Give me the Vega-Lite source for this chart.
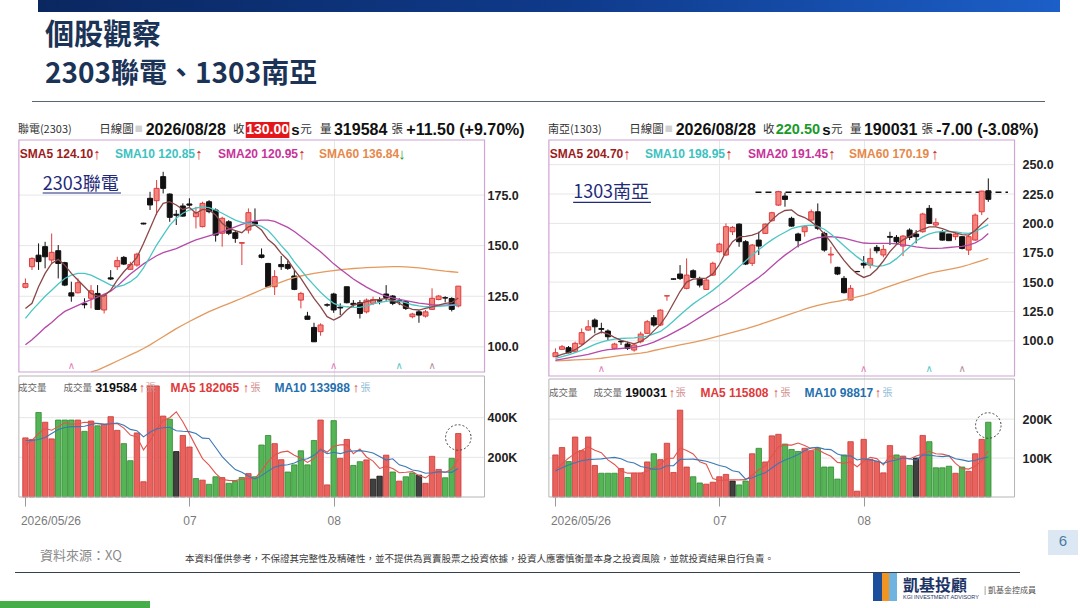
{
"$schema": "https://vega.github.io/schema/vega-lite/v6.json",
"background": "white",
"padding": 0,
"bounds": "flush",
"spacing": 0,
"config": {"view": {"stroke": null}, "concat": {"spacing": 0}, "text": {"align": "left", "baseline": "middle", "font": "Noto Sans CJK TC", "fontSize": 12.5, "color": "#333333"}},
"datasets": {
"L": [
{"i":0,"o":129.4,"h":133.8,"l":128.9,"c":131.3,"m5":119,"m10":114.1,"m20":101,"v":298,"d":"u","vm5":265,"vm10":285},
{"i":1,"o":139.6,"h":144.2,"l":138,"c":143.7,"m5":121.5,"m10":118,"m20":103.5,"v":290,"d":"u","vm5":285,"vm10":285},
{"i":2,"o":145.3,"h":151.1,"l":138,"c":142.1,"m5":129.7,"m10":121.5,"m20":106.5,"v":426,"d":"d","vm5":320,"vm10":290},
{"i":3,"o":149.5,"h":151.9,"l":138.8,"c":144.5,"m5":136.3,"m10":125,"m20":109.5,"v":377,"d":"u","vm5":345,"vm10":300},
{"i":4,"o":142.9,"h":156,"l":141.2,"c":146.7,"m5":141.2,"m10":128,"m20":112,"v":293,"d":"u","vm5":336.8,"vm10":320},
{"i":5,"o":147.5,"h":150.3,"l":133.8,"c":141.2,"m5":143.2,"m10":131,"m20":115,"v":388,"d":"d","vm5":354.8,"vm10":340},
{"i":6,"o":141.6,"h":142,"l":130,"c":130.5,"m5":140.4,"m10":133.8,"m20":117.5,"v":388,"d":"d","vm5":374.4,"vm10":350},
{"i":7,"o":126.7,"h":132.2,"l":122.3,"c":125.1,"m5":136.3,"m10":135.4,"m20":119,"v":388,"d":"d","vm5":366.8,"vm10":355},
{"i":8,"o":126.7,"h":133.8,"l":126.4,"c":131.7,"m5":133,"m10":136.3,"m20":120.5,"v":388,"d":"u","vm5":369,"vm10":355},
{"i":9,"o":121.3,"h":124,"l":119,"c":120.8,"m5":129.7,"m10":136.3,"m20":122,"v":331,"d":"d","vm5":376.6,"vm10":356.7},
{"i":10,"o":124,"h":130.5,"l":119,"c":127.7,"m5":126.4,"m10":135.4,"m20":123.3,"m60":87.6,"v":383,"d":"u","vm5":375.6,"vm10":365.2},
{"i":11,"o":126.4,"h":130.5,"l":118.2,"c":118.5,"m5":125.1,"m10":133.8,"m20":124.5,"m60":88.5,"v":359,"d":"d","vm5":369.8,"vm10":372.1},
{"i":12,"o":118.2,"h":126.4,"l":116.5,"c":125.6,"m5":125.1,"m10":132.2,"m20":126,"m60":90,"v":367,"d":"u","vm5":365.6,"vm10":366.2},
{"i":13,"o":134.1,"h":137.9,"l":133,"c":133.5,"m5":128,"m10":130.5,"m20":127.5,"m60":91.5,"v":405,"d":"u","vm5":369,"vm10":369},
{"i":14,"o":139.6,"h":144.5,"l":138,"c":142.6,"m5":133,"m10":129.7,"m20":130,"m60":93,"v":336,"d":"u","vm5":370,"vm10":373.3},
{"i":15,"o":144.2,"h":144.9,"l":140.4,"c":140.9,"m5":137.1,"m10":130.5,"m20":133,"m60":94.5,"v":269,"d":"d","vm5":347.2,"vm10":361.4},
{"i":16,"o":138.3,"h":142,"l":138,"c":140.7,"m5":140.4,"m10":132.2,"m20":136,"m60":96,"v":183,"d":"d","vm5":312,"vm10":340.9},
{"i":17,"o":140.4,"h":146.5,"l":139.6,"c":145.8,"m5":144.2,"m10":134.6,"m20":138.5,"m60":97.5,"v":323,"d":"u","vm5":303.2,"vm10":334.4},
{"i":18,"o":161.1,"h":161.3,"l":160.5,"c":160.7,"m5":151.1,"m10":139,"m20":141,"m60":99.2,"v":77,"d":"u","vm5":237.6,"vm10":303.3},
{"i":19,"o":173.4,"h":176.6,"l":167.6,"c":170.1,"m5":158.5,"m10":144.5,"m20":143,"m60":101,"v":560,"d":"u","vm5":282.4,"vm10":326.2},
{"i":20,"o":172.2,"h":182.4,"l":165.1,"c":178.3,"m5":166,"m10":150.3,"m20":145,"m60":103,"v":560,"d":"u","vm5":340.6,"vm10":343.9},
{"i":21,"o":184.1,"h":186.5,"l":175.8,"c":178.3,"m5":170.9,"m10":155.2,"m20":146.5,"m60":105,"v":408,"d":"u","vm5":385.6,"vm10":348.8},
{"i":22,"o":175.5,"h":175.8,"l":161.8,"c":164,"m5":171.7,"m10":160,"m20":147.5,"m60":107,"v":392,"d":"d","vm5":399.4,"vm10":351.3},
{"i":23,"o":165.5,"h":167.6,"l":160.2,"c":165,"m5":170.1,"m10":163.5,"m20":148.5,"m60":109,"v":229,"d":"f","vm5":429.8,"vm10":333.7},
{"i":24,"o":169.6,"h":170.9,"l":164.3,"c":164.6,"m5":167.9,"m10":166,"m20":150,"m60":110.8,"v":310,"d":"u","vm5":379.8,"vm10":331.1},
{"i":25,"o":170.6,"h":173.4,"l":169.2,"c":170,"m5":168.9,"m10":167.6,"m20":151.5,"m60":112.5,"v":252,"d":"u","vm5":318.2,"vm10":329.4},
{"i":26,"o":164.3,"h":169.2,"l":158.5,"c":166.3,"m5":166,"m10":168.6,"m20":152.8,"m60":114.2,"v":93,"d":"d","vm5":255.2,"vm10":320.4},
{"i":27,"o":159.4,"h":171.7,"l":159,"c":170.9,"m5":167.9,"m10":169.2,"m20":153.8,"m60":115.8,"v":85,"d":"u","vm5":193.8,"vm10":296.6},
{"i":28,"o":171.7,"h":172.5,"l":166,"c":166.8,"m5":167.6,"m10":168.8,"m20":154.8,"m60":117.4,"v":64,"d":"d","vm5":160.8,"vm10":295.3},
{"i":29,"o":167.6,"h":168.4,"l":152,"c":155.2,"m5":165.1,"m10":167.6,"m20":155.8,"m60":118.8,"v":102,"d":"d","vm5":119.2,"vm10":249.5},
{"i":30,"o":156.1,"h":164.3,"l":149.5,"c":163.5,"m5":161,"m10":166,"m20":156.8,"m60":120.1,"v":98,"d":"u","vm5":88.4,"vm10":203.3},
{"i":31,"o":161.8,"h":162.6,"l":155.2,"c":156.1,"m5":158.5,"m10":164.3,"m20":158,"m60":121.4,"v":69,"d":"d","vm5":83.6,"vm10":169.4},
{"i":32,"o":156.4,"h":157.7,"l":151.4,"c":153.6,"m5":157.4,"m10":162.6,"m20":159.3,"m60":122.7,"v":80,"d":"d","vm5":82.6,"vm10":138.2},
{"i":33,"o":151.2,"h":151.5,"l":140.4,"c":151.5,"m5":156.4,"m10":161.5,"m20":160.5,"m60":124,"v":98,"d":"d","vm5":89.4,"vm10":125.1},
{"i":34,"o":157.7,"h":168.4,"l":156,"c":166.3,"m5":159.3,"m10":161,"m20":161.5,"m60":125.4,"v":118,"d":"u","vm5":92.6,"vm10":105.9},
{"i":35,"o":161.8,"h":168.4,"l":160.2,"c":160.7,"m5":160.2,"m10":160.5,"m20":162.2,"m60":126.8,"v":102,"d":"d","vm5":93.4,"vm10":90.9},
{"i":36,"o":145.4,"h":148.6,"l":143.7,"c":144.2,"m5":157.7,"m10":159.5,"m20":162.6,"m60":128.2,"v":262,"d":"d","vm5":132,"vm10":107.8},
{"i":37,"o":141.2,"h":141.5,"l":129.5,"c":129.7,"m5":153,"m10":157.5,"m20":162.6,"m60":129.6,"v":310,"d":"d","vm5":178,"vm10":130.3},
{"i":38,"o":129.7,"h":137.9,"l":125.6,"c":134.7,"m5":150.3,"m10":154,"m20":162,"m60":130.8,"v":269,"d":"u","vm5":212.2,"vm10":150.8},
{"i":39,"o":140.7,"h":144.9,"l":138,"c":139.6,"m5":146.2,"m10":150,"m20":160.5,"m60":132,"v":188,"d":"u","vm5":226.2,"vm10":159.4},
{"i":40,"o":140.7,"h":142.6,"l":138,"c":138.8,"m5":142.9,"m10":146.5,"m20":159,"m60":133.2,"v":126,"d":"d","vm5":231,"vm10":162.2},
{"i":41,"o":135,"h":137.9,"l":128,"c":128.4,"m5":138,"m10":142,"m20":157,"m60":134.2,"v":162,"d":"d","vm5":211,"vm10":171.5},
{"i":42,"o":123.1,"h":127.2,"l":119,"c":126.4,"m5":133.8,"m10":138,"m20":154.5,"m60":135,"v":233,"d":"d","vm5":195.6,"vm10":186.8},
{"i":43,"o":115.2,"h":117.3,"l":113.5,"c":113.6,"m5":128.9,"m10":134,"m20":152,"m60":135.7,"v":162,"d":"d","vm5":174.2,"vm10":193.2},
{"i":44,"o":109.6,"h":111.9,"l":102.5,"c":102.5,"m5":123.9,"m10":130.5,"m20":149.5,"m60":136.3,"v":285,"d":"d","vm5":193.6,"vm10":209.9},
{"i":45,"o":107.5,"h":111.6,"l":105.5,"c":110.8,"m5":119.8,"m10":127,"m20":147,"m60":136.8,"v":388,"d":"u","vm5":246,"vm10":238.5},
{"i":46,"o":120.8,"h":121.5,"l":119.8,"c":120.6,"m5":114.9,"m10":124,"m20":144,"m60":137.3,"v":61,"d":"u","vm5":225.8,"vm10":218.4},
{"i":47,"o":126.1,"h":126.7,"l":116.8,"c":118.2,"m5":113.2,"m10":121.5,"m20":141,"m60":137.7,"v":385,"d":"d","vm5":256.2,"vm10":225.9},
{"i":48,"o":119.6,"h":121.5,"l":115.7,"c":119.2,"m5":114.9,"m10":120.2,"m20":138.5,"m60":138.1,"v":195,"d":"u","vm5":262.8,"vm10":218.5},
{"i":49,"o":129.7,"h":129.7,"l":121.5,"c":121.8,"m5":118.2,"m10":119.8,"m20":136,"m60":138.4,"v":290,"d":"u","vm5":263.8,"vm10":228.7},
{"i":50,"o":121.5,"h":123.1,"l":119.8,"c":120.8,"m5":120.6,"m10":119.5,"m20":133.5,"m60":138.7,"v":159,"d":"d","vm5":218,"vm10":232},
{"i":51,"o":121.8,"h":123.1,"l":114,"c":116.5,"m5":121.5,"m10":119.5,"m20":131.5,"m60":138.9,"v":178,"d":"d","vm5":241.4,"vm10":233.6},
{"i":52,"o":117.3,"h":123.9,"l":116.5,"c":123.1,"m5":122.3,"m10":120.2,"m20":129.5,"m60":139.1,"v":187,"d":"u","vm5":201.8,"vm10":229},
{"i":53,"o":121.5,"h":124.8,"l":120.6,"c":123.4,"m5":123.1,"m10":121.2,"m20":127.8,"m60":139.3,"v":90,"d":"f","vm5":180.8,"vm10":221.8},
{"i":54,"o":122.8,"h":124.5,"l":121,"c":122.6,"m5":123.4,"m10":122,"m20":126.3,"m60":139.4,"v":105,"d":"f","vm5":143.8,"vm10":203.8},
{"i":55,"o":126.1,"h":130.5,"l":122.8,"c":124.4,"m5":123.9,"m10":122.5,"m20":125,"m60":139.5,"v":211,"d":"u","vm5":154.2,"vm10":186.1},
{"i":56,"o":125.1,"h":125.6,"l":120.6,"c":121.5,"m5":122.8,"m10":123,"m20":124.2,"m60":139.6,"v":126,"d":"d","vm5":143.8,"vm10":192.6},
{"i":57,"o":122.8,"h":124,"l":120.6,"c":122.3,"m5":121.5,"m10":122.6,"m20":123.5,"m60":139.6,"v":80,"d":"u","vm5":122.4,"vm10":162.1},
{"i":58,"o":122.3,"h":123.1,"l":118.2,"c":119,"m5":119.8,"m10":121.8,"m20":122.8,"m60":139.5,"v":102,"d":"d","vm5":124.8,"vm10":152.8},
{"i":59,"o":114.9,"h":116.8,"l":114.1,"c":116.2,"m5":118.5,"m10":120.8,"m20":122.2,"m60":139.3,"v":121,"d":"d","vm5":128,"vm10":135.9},
{"i":60,"o":117.3,"h":118.2,"l":111.9,"c":115.7,"m5":118.2,"m10":120.2,"m20":121.6,"m60":139,"v":110,"d":"f","vm5":107.8,"vm10":131},
{"i":61,"o":115.2,"h":118.2,"l":114.5,"c":117.3,"m5":119,"m10":119.8,"m20":121.2,"m60":138.6,"v":69,"d":"u","vm5":96.4,"vm10":120.1},
{"i":62,"o":118.5,"h":128.9,"l":118.2,"c":124,"m5":119.8,"m10":119.8,"m20":120.8,"m60":138.2,"v":205,"d":"u","vm5":121.4,"vm10":121.9},
{"i":63,"o":123.4,"h":125.6,"l":123,"c":125.1,"m5":120.6,"m10":120,"m20":120.6,"m60":137.8,"v":139,"d":"u","vm5":128.8,"vm10":126.8},
{"i":64,"o":124.3,"h":125,"l":122,"c":124.1,"m5":121.5,"m10":120.3,"m20":120.6,"m60":137.4,"v":97,"d":"d","vm5":124,"vm10":126},
{"i":65,"o":123.9,"h":124.5,"l":117.5,"c":118.5,"m5":121.8,"m10":120.5,"m20":120.8,"m60":137.1,"v":195,"d":"d","vm5":141,"vm10":124.4},
{"i":66,"o":120.2,"h":130,"l":119.5,"c":130,"m5":124.1,"m10":120.85,"m20":120.95,"m60":136.84,"v":320,"d":"u","vm5":191.2,"vm10":143.8}
],
"R": [
{"i":0,"o":86.5,"h":93.6,"l":86.5,"c":89.9,"m5":86.5,"m10":85,"m20":83.5,"m60":83,"v":108,"d":"u","vm5":69,"vm10":67},
{"i":1,"o":92.8,"h":96.5,"l":92.2,"c":95,"m5":88.5,"m10":86.5,"m20":84.5,"m60":83.2,"v":127,"d":"u","vm5":85,"vm10":75},
{"i":2,"o":94.2,"h":95.6,"l":89.4,"c":89.9,"m5":90,"m10":88,"m20":85.5,"m60":83.5,"v":91,"d":"d","vm5":100,"vm10":82},
{"i":3,"o":90.8,"h":99.3,"l":89.9,"c":97.9,"m5":92.5,"m10":90,"m20":86.5,"m60":83.8,"v":154,"d":"u","vm5":112,"vm10":88},
{"i":4,"o":97.3,"h":110.6,"l":96.5,"c":107,"m5":96,"m10":92,"m20":87.5,"m60":84,"v":119,"d":"u","vm5":119.8,"vm10":93},
{"i":5,"o":109.2,"h":117.7,"l":108.6,"c":112,"m5":100.5,"m10":94.5,"m20":88.5,"m60":84.3,"v":154,"d":"u","vm5":129,"vm10":96},
{"i":6,"o":117.7,"h":119.1,"l":106.4,"c":112,"m5":105,"m10":97,"m20":90,"m60":84.7,"v":81,"d":"u","vm5":119.8,"vm10":97},
{"i":7,"o":110.5,"h":115.4,"l":106.4,"c":109.8,"m5":107.5,"m10":99,"m20":91.5,"m60":85.2,"v":61,"d":"d","vm5":113.8,"vm10":98},
{"i":8,"o":108.4,"h":109.8,"l":100.1,"c":103.5,"m5":106,"m10":100.5,"m20":92.5,"m60":86,"v":61,"d":"d","vm5":95.2,"vm10":100},
{"i":9,"o":93.6,"h":98.4,"l":92.8,"c":97.3,"m5":103,"m10":101.5,"m20":93,"m60":86.8,"v":61,"d":"d","vm5":83.6,"vm10":101.7},
{"i":10,"o":99.6,"h":100.7,"l":96.5,"c":99.2,"m5":100.5,"m10":102,"m20":93.5,"m60":87.6,"v":73,"d":"u","vm5":67.4,"vm10":98.2},
{"i":11,"o":97.3,"h":99.3,"l":92.2,"c":93.6,"m5":99,"m10":102.3,"m20":94,"m60":88.3,"v":50,"d":"d","vm5":61.2,"vm10":90.5},
{"i":12,"o":92.2,"h":98.4,"l":90.8,"c":96.5,"m5":97.5,"m10":102.6,"m20":94.5,"m60":89,"v":61,"d":"u","vm5":61.2,"vm10":87.5},
{"i":13,"o":99.3,"h":107.8,"l":97.9,"c":105.8,"m5":99.5,"m10":103.2,"m20":95.5,"m60":89.5,"v":61,"d":"u","vm5":61.2,"vm10":78.2},
{"i":14,"o":106.4,"h":117.7,"l":105.8,"c":116.3,"m5":103,"m10":104,"m20":97,"m60":90.5,"v":90,"d":"u","vm5":67,"vm10":75.3},
{"i":15,"o":119.7,"h":122,"l":112.1,"c":113.5,"m5":108.5,"m10":106,"m20":99,"m60":91.8,"v":111,"d":"d","vm5":74.6,"vm10":71},
{"i":16,"o":113.5,"h":126.8,"l":112.6,"c":126.2,"m5":114,"m10":108,"m20":101.5,"m60":93,"v":96,"d":"u","vm5":83.8,"vm10":72.5},
{"i":17,"o":138.2,"h":138.6,"l":134.2,"c":138.4,"m5":122,"m10":112,"m20":104,"m60":94.2,"v":138,"d":"u","vm5":99.2,"vm10":80.2},
{"i":18,"o":152.8,"h":153,"l":152,"c":152.5,"m5":132,"m10":117,"m20":107,"m60":95.3,"v":63,"d":"u","vm5":99.6,"vm10":80.4},
{"i":19,"o":156.9,"h":164.5,"l":151.8,"c":153.2,"m5":142,"m10":122,"m20":110,"m60":96.5,"v":223,"d":"u","vm5":126.2,"vm10":96.6},
{"i":20,"o":144.7,"h":170.2,"l":143.8,"c":156,"m5":150,"m10":127,"m20":113,"m60":97.7,"v":77,"d":"u","vm5":119.4,"vm10":97},
{"i":21,"o":159.7,"h":160.9,"l":153.2,"c":154,"m5":152.5,"m10":131.5,"m20":116.5,"m60":98.8,"v":52,"d":"d","vm5":110.6,"vm10":97.2},
{"i":22,"o":153.2,"h":154.6,"l":145.5,"c":147.5,"m5":153,"m10":135.5,"m20":120,"m60":100,"v":36,"d":"d","vm5":90.2,"vm10":94.7},
{"i":23,"o":143.8,"h":153.2,"l":143.3,"c":151.8,"m5":153.5,"m10":139,"m20":123.5,"m60":101.3,"v":33,"d":"u","vm5":84.2,"vm10":91.9},
{"i":24,"o":156,"h":167.4,"l":155.2,"c":166,"m5":157,"m10":143,"m20":127,"m60":102.7,"v":38,"d":"u","vm5":47.2,"vm10":86.7},
{"i":25,"o":175.9,"h":183.5,"l":175,"c":182.4,"m5":165,"m10":147.5,"m20":130.5,"m60":104.2,"v":52,"d":"u","vm5":42.2,"vm10":80.8},
{"i":26,"o":173.1,"h":200,"l":172.2,"c":197.2,"m5":176,"m10":152.5,"m20":134,"m60":105.7,"v":58,"d":"u","vm5":43.4,"vm10":77},
{"i":27,"o":192.9,"h":197.7,"l":190.1,"c":196.6,"m5":184.5,"m10":157.5,"m20":138,"m60":107.2,"v":41,"d":"f","vm5":44.4,"vm10":67.3},
{"i":28,"o":199.4,"h":200,"l":180.1,"c":184.4,"m5":188.5,"m10":163,"m20":142,"m60":108.8,"v":31,"d":"d","vm5":44,"vm10":64.1},
{"i":29,"o":184.4,"h":185.8,"l":164.5,"c":165.4,"m5":189,"m10":168,"m20":146,"m60":110.3,"v":41,"d":"d","vm5":44.6,"vm10":45.9},
{"i":30,"o":166,"h":182.4,"l":163.7,"c":181.6,"m5":190,"m10":173,"m20":150,"m60":112,"v":111,"d":"u","vm5":56.4,"vm10":49.3},
{"i":31,"o":185.8,"h":192.9,"l":173.1,"c":180.7,"m5":192,"m10":177.5,"m20":154,"m60":113.7,"v":125,"d":"d","vm5":69.8,"vm10":56.6},
{"i":32,"o":191.5,"h":200,"l":191,"c":199.4,"m5":197,"m10":182,"m20":158.5,"m60":115.6,"v":90,"d":"u","vm5":79.6,"vm10":62},
{"i":33,"o":202.3,"h":209.9,"l":201.4,"c":209.1,"m5":203,"m10":186,"m20":163.5,"m60":117.5,"v":157,"d":"u","vm5":104.8,"vm10":74.4},
{"i":34,"o":215.6,"h":227.8,"l":214.8,"c":227,"m5":208,"m10":189.5,"m20":168.5,"m60":119.3,"v":161,"d":"u","vm5":128.8,"vm10":86.7},
{"i":35,"o":223.3,"h":226.1,"l":214.2,"c":220.4,"m5":211,"m10":192.5,"m20":173,"m60":121.2,"v":136,"d":"d","vm5":133.8,"vm10":95.1},
{"i":36,"o":204.3,"h":205.7,"l":197.2,"c":197.7,"m5":211.5,"m10":195.5,"m20":177,"m60":123.1,"v":122,"d":"d","vm5":133.2,"vm10":101.5},
{"i":37,"o":191,"h":192.1,"l":179.6,"c":185.3,"m5":207,"m10":197,"m20":181,"m60":125,"v":117,"d":"d","vm5":138.6,"vm10":109.1},
{"i":38,"o":192.9,"h":198.6,"l":188.7,"c":197.2,"m5":205,"m10":198,"m20":183.5,"m60":127,"v":125,"d":"u","vm5":132.2,"vm10":118.5},
{"i":39,"o":202.8,"h":211.9,"l":202.3,"c":209.9,"m5":201.5,"m10":198.5,"m20":186,"m60":128.8,"v":119,"d":"u","vm5":123.8,"vm10":126.3},
{"i":40,"o":209.9,"h":217,"l":194.3,"c":195.8,"m5":197,"m10":197.5,"m20":187.8,"m60":130.3,"v":125,"d":"d","vm5":121.6,"vm10":127.7},
{"i":41,"o":191.5,"h":192.9,"l":175.9,"c":177.3,"m5":191,"m10":195,"m20":188.5,"m60":131.5,"v":77,"d":"d","vm5":112.6,"vm10":122.9},
{"i":42,"o":173.1,"h":180.1,"l":165.9,"c":173.8,"m5":184,"m10":191,"m20":188.7,"m60":132.7,"v":77,"d":"d","vm5":104.6,"vm10":121.6},
{"i":43,"o":162.6,"h":163.1,"l":156,"c":156.9,"m5":176,"m10":186,"m20":188.2,"m60":133.7,"v":46,"d":"d","vm5":88.8,"vm10":110.5},
{"i":44,"o":153.2,"h":155.2,"l":140.4,"c":141,"m5":168.5,"m10":181,"m20":187.5,"m60":134.8,"v":108,"d":"d","vm5":86.6,"vm10":105.2},
{"i":45,"o":134.8,"h":147.5,"l":134.2,"c":144.7,"m5":162,"m10":176,"m20":186,"m60":136,"v":142,"d":"u","vm5":90,"vm10":105.8},
{"i":46,"o":159.1,"h":159.5,"l":158.5,"c":158.9,"m5":157,"m10":171.5,"m20":184.5,"m60":137.4,"v":15,"d":"u","vm5":77.6,"vm10":95.1},
{"i":47,"o":166,"h":172.2,"l":161.7,"c":164.5,"m5":154,"m10":167.5,"m20":183.3,"m60":138.8,"v":148,"d":"u","vm5":91.8,"vm10":98.2},
{"i":48,"o":164.5,"h":178.7,"l":161.7,"c":170.2,"m5":156,"m10":164.5,"m20":183,"m60":140.5,"v":97,"d":"u","vm5":102,"vm10":95.4},
{"i":49,"o":179.6,"h":181.6,"l":174.5,"c":176.7,"m5":161,"m10":163.5,"m20":183,"m60":142.5,"v":91,"d":"u","vm5":98.6,"vm10":92.6},
{"i":50,"o":173.1,"h":181.6,"l":171.1,"c":177.9,"m5":168,"m10":164,"m20":183,"m60":144.7,"v":62,"d":"u","vm5":82.6,"vm10":86.3},
{"i":51,"o":188.9,"h":192.9,"l":181.6,"c":188.2,"m5":176,"m10":166,"m20":183,"m60":146.7,"v":132,"d":"u","vm5":106,"vm10":91.8},
{"i":52,"o":188.1,"h":190.1,"l":181.6,"c":184.4,"m5":182,"m10":170,"m20":182.5,"m60":148.6,"v":108,"d":"d","vm5":98,"vm10":94.9},
{"i":53,"o":180.7,"h":190.1,"l":172.2,"c":189.2,"m5":186,"m10":175,"m20":181.8,"m60":150.4,"v":105,"d":"u","vm5":99.6,"vm10":100.8},
{"i":54,"o":194.3,"h":195.8,"l":185.8,"c":188.1,"m5":189,"m10":180,"m20":181,"m60":152.2,"v":81,"d":"d","vm5":97.6,"vm10":98.1},
{"i":55,"o":190.9,"h":194.3,"l":183,"c":188.7,"m5":192.5,"m10":185,"m20":180,"m60":154,"v":100,"d":"f","vm5":105.2,"vm10":93.9},
{"i":56,"o":192.9,"h":209.1,"l":192.1,"c":208,"m5":195,"m10":188.5,"m20":179.3,"m60":155.8,"v":158,"d":"u","vm5":110.4,"vm10":108.2},
{"i":57,"o":212.8,"h":215.6,"l":199.4,"c":200,"m5":197,"m10":191,"m20":178.8,"m60":157.4,"v":142,"d":"d","vm5":117.2,"vm10":107.6},
{"i":58,"o":198.6,"h":204.3,"l":197.2,"c":200.6,"m5":197,"m10":192.5,"m20":178.7,"m60":158.7,"v":75,"d":"d","vm5":111.2,"vm10":105.4},
{"i":59,"o":192.9,"h":194.3,"l":185.3,"c":185.8,"m5":195.5,"m10":193,"m20":179,"m60":159.8,"v":75,"d":"d","vm5":110,"vm10":103.8},
{"i":60,"o":191,"h":191,"l":185.3,"c":185.3,"m5":193.5,"m10":193,"m20":179.5,"m60":160.9,"v":79,"d":"d","vm5":105.8,"vm10":105.5},
{"i":61,"o":188.7,"h":192.9,"l":185.8,"c":190.9,"m5":192,"m10":192.8,"m20":180,"m60":162,"v":61,"d":"u","vm5":86.4,"vm10":98.4},
{"i":62,"o":188.7,"h":189.2,"l":177.9,"c":178.7,"m5":190.5,"m10":192,"m20":180.5,"m60":163.2,"v":77,"d":"d","vm5":73.4,"vm10":95.3},
{"i":63,"o":177.3,"h":190.1,"l":173.1,"c":188.7,"m5":190,"m10":191.5,"m20":181.5,"m60":164.8,"v":66,"d":"u","vm5":71.6,"vm10":91.4},
{"i":64,"o":185.8,"h":208.5,"l":185.3,"c":207.1,"m5":194,"m10":193,"m20":183.5,"m60":166.6,"v":111,"d":"u","vm5":78.8,"vm10":94.4},
{"i":65,"o":209.9,"h":227.8,"l":207.1,"c":227.5,"m5":199.5,"m10":196,"m20":186.5,"m60":168.4,"v":148,"d":"u","vm5":92.6,"vm10":99.2},
{"i":66,"o":227.8,"h":238.3,"l":218.4,"c":220.5,"m5":204.7,"m10":198.95,"m20":191.45,"m60":170.19,"v":192,"d":"d","vm5":118.8,"vm10":102.6}
]
},
"vconcat": [
{"width": 1060, "height": 12, "view": {"fill": {"gradient": "linear", "x1": 0, "y1": 0, "x2": 1, "y2": 0, "stops": [{"offset": 0, "color": "rgba(255,255,255,0)"}, {"offset": 0.0358, "color": "rgba(255,255,255,0)"}, {"offset": 0.0359, "color": "#0a2760"}, {"offset": 0.55, "color": "#0f3b8c"}, {"offset": 1, "color": "#1c5fc8"}]}}, "data": {"values": []}, "mark": "point"},
{"width": 1080, "height": 89, "data": {"values": []}, "mark": "point"},
{"width": 1045, "height": 1, "view": {"fill": {"gradient": "linear", "x1": 0, "y1": 0, "x2": 1, "y2": 0, "stops": [{"offset": 0, "color": "rgba(255,255,255,0)"}, {"offset": 0.0306, "color": "rgba(255,255,255,0)"}, {"offset": 0.0307, "color": "#5b6570"}, {"offset": 1, "color": "#5b6570"}]}}, "data": {"values": []}, "mark": "point",
 "title": {"text": "個股觀察", "subtitle": "2303聯電、1303南亞", "anchor": "start", "orient": "top", "frame": "group", "dx": 45, "offset": 12, "font": "Noto Sans CJK TC", "fontSize": 29, "fontWeight": "bold", "color": "#1b3356", "subtitleFont": "Noto Sans CJK TC", "subtitleFontSize": 28, "subtitleFontWeight": "bold", "subtitleColor": "#1b3356", "subtitlePadding": 10}},
{"width": 1080, "height": 38, "data": {"values": []}, "mark": "point"},
{"width": 1080, "height": 357,
 "resolve": {"scale": {"x": "independent", "y": "independent"}, "axis": {"x": "independent", "y": "independent"}},
 "layer": [
  {"resolve": {"scale": {"y": "independent"}, "axis": {"y": "independent"}},
   "layer": [
    {"layer": [
      {"data": {"values": [{"g": 100}, {"g": 125}, {"g": 150}, {"g": 175}]}, "mark": {"type": "rule", "color": "#e6e6e6", "strokeWidth": 1}, "encoding": {"x": {"datum": -1, "type": "quantitative"}, "x2": {"datum": 70}, "y": {"field": "g", "type": "quantitative", "title": null}}},
      {"data": {"name": "L"}, "layer": [
       {"mark": {"type": "rule", "strokeWidth": 1},
        "encoding": {
         "x": {"field": "i", "type": "quantitative", "title": null, "scale": {"domain": [-3.115, 160.03], "nice": false, "zero": false}},
         "y": {"field": "l", "type": "quantitative", "title": null, "scale": {"domain": [25.81, 202.2], "nice": false, "zero": false}, "axis": {"orient": "right", "offset": -596, "values": [100, 125, 150, 175], "format": ".1f", "grid": false, "domain": false, "ticks": false, "labelPadding": 3, "labelFont": "Liberation Sans", "labelFontSize": 12.5, "labelFontWeight": "bold", "labelColor": "#222222"}},
         "y2": {"field": "h"},
         "color": {"condition": {"test": "datum.c >= datum.o", "value": "#e03c3c"}, "value": "#111111"}}},
       {"mark": {"type": "bar", "size": 5, "strokeWidth": 1},
        "encoding": {"x": {"field": "i", "type": "quantitative", "title": null}, "y": {"field": "o", "type": "quantitative", "title": null}, "y2": {"field": "c"},
         "fill": {"condition": {"test": "datum.c >= datum.o", "value": "#f2837d"}, "value": "#111111"},
         "stroke": {"condition": {"test": "datum.c >= datum.o", "value": "#e03c3c"}, "value": "#111111"}}},
       {"mark": {"type": "line", "strokeWidth": 1.3, "color": "#e39a5e"}, "encoding": {"x": {"field": "i", "type": "quantitative", "title": null}, "y": {"field": "m60", "type": "quantitative", "title": null}}},
       {"mark": {"type": "line", "strokeWidth": 1.3, "color": "#b54aa8"}, "encoding": {"x": {"field": "i", "type": "quantitative", "title": null}, "y": {"field": "m20", "type": "quantitative", "title": null}}},
       {"mark": {"type": "line", "strokeWidth": 1.3, "color": "#4cc6c4"}, "encoding": {"x": {"field": "i", "type": "quantitative", "title": null}, "y": {"field": "m10", "type": "quantitative", "title": null}}},
       {"mark": {"type": "line", "strokeWidth": 1.3, "color": "#8a4848"}, "encoding": {"x": {"field": "i", "type": "quantitative", "title": null}, "y": {"field": "m5", "type": "quantitative", "title": null}}}
      ]},
      {"data": {"values": [{"i": 7, "k": "p"}, {"i": 47, "k": "p"}, {"i": 57, "k": "c"}, {"i": 62, "k": "g"}]},
       "mark": {"type": "text", "text": "∧", "align": "center", "font": "DejaVu Sans", "fontSize": 10},
       "encoding": {"x": {"field": "i", "type": "quantitative", "title": null}, "y": {"datum": 90.54, "type": "quantitative"}, "color": {"field": "k", "type": "nominal", "scale": {"domain": ["p", "c", "g"], "range": ["#e57cb9", "#58c9c9", "#b48f9c"]}, "legend": null}}},
      {"data": {"values": [{}]}, "layer": [
       {"mark": {"type": "rect", "filled": false, "color": "#cfa4d6", "strokeWidth": 1.2}, "encoding": {"x": {"datum": -1, "type": "quantitative"}, "x2": {"datum": 70}, "y": {"datum": 87.57, "type": "quantitative"}, "y2": {"datum": 202.2}}},
       {"mark": {"type": "rect", "color": "#e3161b"}, "encoding": {"x": {"datum": 33.59, "type": "quantitative"}, "x2": {"datum": 40.24}, "y": {"datum": 211.09, "type": "quantitative"}, "y2": {"datum": 203.19}}},
       {"encoding": {"y": {"datum": 207.14, "type": "quantitative"}}, "layer": [
        {"mark": {"type": "text", "text": "聯電(2303)", "fontSize": 11}, "encoding": {"x": {"datum": -1.15, "type": "quantitative"}}},
        {"mark": {"type": "text", "text": "日線圖", "fontSize": 11.5}, "encoding": {"x": {"datum": 11.24, "type": "quantitative"}}},
        {"mark": {"type": "text", "text": "■", "fontSize": 8, "color": "#d0d0d0"}, "encoding": {"x": {"datum": 16.67, "type": "quantitative"}}},
        {"mark": {"type": "text", "text": "2026/08/28", "font": "Liberation Sans", "fontSize": 16, "fontWeight": "bold", "color": "#111111"}, "encoding": {"x": {"datum": 18.34, "type": "quantitative"}}},
        {"mark": {"type": "text", "text": "收", "fontSize": 11.5}, "encoding": {"x": {"datum": 31.63, "type": "quantitative"}}},
        {"mark": {"type": "text", "text": "130.00", "align": "center", "font": "Liberation Sans", "fontSize": 14, "fontWeight": "bold", "color": "#ffffff"}, "encoding": {"x": {"datum": 36.92, "type": "quantitative"}}},
        {"mark": {"type": "text", "text": "s", "font": "Liberation Sans", "fontSize": 15, "fontWeight": "bold", "color": "#111111"}, "encoding": {"x": {"datum": 40.54, "type": "quantitative"}}},
        {"mark": {"type": "text", "text": "元", "fontSize": 11.5}, "encoding": {"x": {"datum": 41.9, "type": "quantitative"}}},
        {"mark": {"type": "text", "text": "量", "fontSize": 11.5}, "encoding": {"x": {"datum": 44.92, "type": "quantitative"}}},
        {"mark": {"type": "text", "text": "319584", "font": "Liberation Sans", "fontSize": 16, "fontWeight": "bold", "color": "#111111"}, "encoding": {"x": {"datum": 47.04, "type": "quantitative"}}},
        {"mark": {"type": "text", "text": "張", "fontSize": 11.5}, "encoding": {"x": {"datum": 55.8, "type": "quantitative"}}},
        {"mark": {"type": "text", "text": "+11.50 (+9.70%)", "font": "Liberation Sans", "fontSize": 16, "fontWeight": "bold", "color": "#111111"}, "encoding": {"x": {"datum": 58.07, "type": "quantitative"}}}
       ]},
       {"encoding": {"y": {"datum": 195.28, "type": "quantitative"}}, "layer": [
        {"mark": {"type": "text", "text": "SMA5 124.10", "font": "Liberation Sans", "fontSize": 12, "fontWeight": "bold", "color": "#9c1c1c"}, "encoding": {"x": {"datum": -0.85, "type": "quantitative"}}},
        {"mark": {"type": "text", "text": "↑", "font": "Liberation Sans, DejaVu Sans", "fontSize": 15, "fontWeight": "bold", "color": "#d41a1a"}, "encoding": {"x": {"datum": 10.33, "type": "quantitative"}}},
        {"mark": {"type": "text", "text": "SMA10 120.85", "font": "Liberation Sans", "fontSize": 12, "fontWeight": "bold", "color": "#3cc2c0"}, "encoding": {"x": {"datum": 13.65, "type": "quantitative"}}},
        {"mark": {"type": "text", "text": "↑", "font": "Liberation Sans, DejaVu Sans", "fontSize": 15, "fontWeight": "bold", "color": "#d41a1a"}, "encoding": {"x": {"datum": 25.89, "type": "quantitative"}}},
        {"mark": {"type": "text", "text": "SMA20 120.95", "font": "Liberation Sans", "fontSize": 12, "fontWeight": "bold", "color": "#c8339a"}, "encoding": {"x": {"datum": 29.36, "type": "quantitative"}}},
        {"mark": {"type": "text", "text": "↑", "font": "Liberation Sans, DejaVu Sans", "fontSize": 15, "fontWeight": "bold", "color": "#d41a1a"}, "encoding": {"x": {"datum": 41.6, "type": "quantitative"}}},
        {"mark": {"type": "text", "text": "SMA60 136.84", "font": "Liberation Sans", "fontSize": 12, "fontWeight": "bold", "color": "#e6884a"}, "encoding": {"x": {"datum": 44.77, "type": "quantitative"}}},
        {"mark": {"type": "text", "text": "↓", "font": "Liberation Sans, DejaVu Sans", "fontSize": 15, "fontWeight": "bold", "color": "#2aa02a"}, "encoding": {"x": {"datum": 56.86, "type": "quantitative"}}}
       ]},
       {"mark": {"type": "text", "text": "2303聯電", "fontSize": 18, "color": "#1f2a78"}, "encoding": {"x": {"datum": 2.63, "type": "quantitative"}, "y": {"datum": 180.21, "type": "quantitative"}}},
       {"mark": {"type": "rule", "color": "#1f2a78", "strokeWidth": 1.2}, "encoding": {"x": {"datum": 2.63, "type": "quantitative"}, "x2": {"datum": 14.56}, "y": {"datum": 176.01, "type": "quantitative"}}}
      ]}
    ]},
    {"layer": [
      {"data": {"values": [{"g": 200}, {"g": 400}]}, "mark": {"type": "rule", "color": "#e6e6e6", "strokeWidth": 1}, "encoding": {"x": {"datum": -1, "type": "quantitative"}, "x2": {"datum": 70}, "y": {"field": "g", "type": "quantitative", "title": null}}},
      {"data": {"name": "L"}, "layer": [
       {"mark": {"type": "bar", "size": 5.4, "strokeWidth": 0.8},
        "encoding": {
         "x": {"field": "i", "type": "quantitative", "title": null, "scale": {"domain": [-3.115, 160.03], "nice": false, "zero": false},
          "axis": {"orient": "bottom", "values": [0, 25, 47], "labelExpr": "datum.value == 0 ? '2026/05/26' : datum.value == 25 ? '07' : '08'", "labelAlign": {"condition": {"test": "datum.value == 0", "value": "left"}, "value": "center"}, "labelOffset": {"condition": {"test": "datum.value == 0", "value": -5}, "value": 0}, "labelFlush": false, "grid": true, "gridColor": "#e6e6e6", "gridOpacity": {"condition": {"test": "datum.value == 0", "value": 0}, "value": 1}, "domain": false, "tickSize": 9, "tickColor": "#999999", "labelPadding": 9, "labelFont": "Liberation Sans", "labelFontSize": 12, "labelColor": "#7a7a7a"}},
         "y": {"field": "v", "type": "quantitative", "title": null, "scale": {"domain": [0, 1799.8], "nice": false}, "axis": {"orient": "right", "offset": -596, "values": [200, 400], "labelExpr": "datum.value + 'K'", "grid": false, "domain": false, "ticks": false, "labelPadding": 3, "labelFont": "Liberation Sans", "labelFontSize": 12.5, "labelFontWeight": "bold", "labelColor": "#222222"}},
         "fill": {"field": "d", "type": "nominal", "scale": {"domain": ["u", "d", "f"], "range": ["#ea625d", "#55b455", "#404040"]}, "legend": null},
         "stroke": {"field": "d", "type": "nominal", "scale": {"domain": ["u", "d", "f"], "range": ["#c93a35", "#2f8a2f", "#111111"]}, "legend": null}}},
       {"mark": {"type": "line", "strokeWidth": 1.1, "color": "#e0554f"}, "encoding": {"x": {"field": "i", "type": "quantitative", "title": null}, "y": {"field": "vm5", "type": "quantitative", "title": null}}},
       {"mark": {"type": "line", "strokeWidth": 1.1, "color": "#3c78b4"}, "encoding": {"x": {"field": "i", "type": "quantitative", "title": null}, "y": {"field": "vm10", "type": "quantitative", "title": null}}}
      ]},
      {"data": {"values": [{"i": 66, "v": 300}]}, "mark": {"type": "point", "shape": "circle", "size": 650, "filled": false, "color": "#444444", "strokeWidth": 1, "strokeDash": [2, 2], "opacity": 1}, "encoding": {"x": {"field": "i", "type": "quantitative", "title": null}, "y": {"field": "v", "type": "quantitative", "title": null}}},
      {"data": {"values": [{}]}, "layer": [
       {"mark": {"type": "rect", "filled": false, "color": "#b5b5b5", "strokeWidth": 1}, "encoding": {"x": {"datum": -1, "type": "quantitative"}, "x2": {"datum": 70}, "y": {"datum": 0, "type": "quantitative"}, "y2": {"datum": 610}}},
       {"encoding": {"y": {"datum": 549.5, "type": "quantitative"}}, "layer": [
        {"mark": {"type": "text", "text": "成交量", "fontSize": 9.5, "color": "#666666"}, "encoding": {"x": {"datum": -1.15, "type": "quantitative"}}},
        {"mark": {"type": "text", "text": "成交量", "fontSize": 9.5, "color": "#666666"}, "encoding": {"x": {"datum": 5.8, "type": "quantitative"}}},
        {"mark": {"type": "text", "text": "319584", "font": "Liberation Sans", "fontSize": 12.5, "fontWeight": "bold", "color": "#111111"}, "encoding": {"x": {"datum": 10.63, "type": "quantitative"}}},
        {"mark": {"type": "text", "text": "↑", "font": "Liberation Sans, DejaVu Sans", "fontSize": 13, "fontWeight": "bold", "color": "#d41a1a"}, "encoding": {"x": {"datum": 17.28, "type": "quantitative"}}},
        {"mark": {"type": "text", "text": "張", "fontSize": 10, "color": "#d49090"}, "encoding": {"x": {"datum": 18.34, "type": "quantitative"}}},
        {"mark": {"type": "text", "text": "MA5 182065", "font": "Liberation Sans", "fontSize": 12, "fontWeight": "bold", "color": "#e03a3a"}, "encoding": {"x": {"datum": 22.11, "type": "quantitative"}}},
        {"mark": {"type": "text", "text": "↑", "font": "Liberation Sans, DejaVu Sans", "fontSize": 13, "fontWeight": "bold", "color": "#d41a1a"}, "encoding": {"x": {"datum": 33.14, "type": "quantitative"}}},
        {"mark": {"type": "text", "text": "張", "fontSize": 10, "color": "#d49090"}, "encoding": {"x": {"datum": 34.3, "type": "quantitative"}}},
        {"mark": {"type": "text", "text": "MA10 133988", "font": "Liberation Sans", "fontSize": 12, "fontWeight": "bold", "color": "#1f70ae"}, "encoding": {"x": {"datum": 37.97, "type": "quantitative"}}},
        {"mark": {"type": "text", "text": "↑", "font": "Liberation Sans, DejaVu Sans", "fontSize": 13, "fontWeight": "bold", "color": "#d41a1a"}, "encoding": {"x": {"datum": 49.91, "type": "quantitative"}}},
        {"mark": {"type": "text", "text": "張", "fontSize": 10, "color": "#94bedb"}, "encoding": {"x": {"datum": 51.07, "type": "quantitative"}}}
       ]}
      ]}
    ]}
   ]},
  {"resolve": {"scale": {"y": "independent"}, "axis": {"y": "independent"}},
   "layer": [
    {"layer": [
      {"data": {"values": [{"g": 100}, {"g": 125}, {"g": 150}, {"g": 175}, {"g": 200}, {"g": 225}, {"g": 250}]}, "mark": {"type": "rule", "color": "#e6e6e6", "strokeWidth": 1}, "encoding": {"x": {"datum": -1, "type": "quantitative"}, "x2": {"datum": 70}, "y": {"field": "g", "type": "quantitative", "title": null}}},
      {"data": {"values": [{"i": 30.5, "i2": 69, "p": 226.5}]}, "mark": {"type": "rule", "strokeDash": [6, 4], "strokeWidth": 1.5, "color": "#111111"}, "encoding": {"x": {"field": "i", "type": "quantitative", "title": null}, "x2": {"field": "i2"}, "y": {"field": "p", "type": "quantitative", "title": null}}},
      {"data": {"name": "R"}, "layer": [
       {"mark": {"type": "rule", "strokeWidth": 1},
        "encoding": {
         "x": {"field": "i", "type": "quantitative", "title": null, "scale": {"domain": [-83.93, 79.22], "nice": false, "zero": false}},
         "y": {"field": "l", "type": "quantitative", "title": null, "scale": {"domain": [-32.91, 271], "nice": false, "zero": false}, "axis": {"orient": "right", "offset": -61, "values": [100, 125, 150, 175, 200, 225, 250], "format": ".1f", "grid": false, "domain": false, "ticks": false, "labelPadding": 3, "labelFont": "Liberation Sans", "labelFontSize": 12.5, "labelFontWeight": "bold", "labelColor": "#222222"}},
         "y2": {"field": "h"},
         "color": {"condition": {"test": "datum.c >= datum.o", "value": "#e03c3c"}, "value": "#111111"}}},
       {"mark": {"type": "bar", "size": 5, "strokeWidth": 1},
        "encoding": {"x": {"field": "i", "type": "quantitative", "title": null}, "y": {"field": "o", "type": "quantitative", "title": null}, "y2": {"field": "c"},
         "fill": {"condition": {"test": "datum.c >= datum.o", "value": "#f2837d"}, "value": "#111111"},
         "stroke": {"condition": {"test": "datum.c >= datum.o", "value": "#e03c3c"}, "value": "#111111"}}},
       {"mark": {"type": "line", "strokeWidth": 1.3, "color": "#e39a5e"}, "encoding": {"x": {"field": "i", "type": "quantitative", "title": null}, "y": {"field": "m60", "type": "quantitative", "title": null}}},
       {"mark": {"type": "line", "strokeWidth": 1.3, "color": "#b54aa8"}, "encoding": {"x": {"field": "i", "type": "quantitative", "title": null}, "y": {"field": "m20", "type": "quantitative", "title": null}}},
       {"mark": {"type": "line", "strokeWidth": 1.3, "color": "#4cc6c4"}, "encoding": {"x": {"field": "i", "type": "quantitative", "title": null}, "y": {"field": "m10", "type": "quantitative", "title": null}}},
       {"mark": {"type": "line", "strokeWidth": 1.3, "color": "#8a4848"}, "encoding": {"x": {"field": "i", "type": "quantitative", "title": null}, "y": {"field": "m5", "type": "quantitative", "title": null}}}
      ]},
      {"data": {"values": [{"i": 7, "k": "p"}, {"i": 47, "k": "p"}, {"i": 57, "k": "c"}, {"i": 62, "k": "g"}]},
       "mark": {"type": "text", "text": "∧", "align": "center", "font": "DejaVu Sans", "fontSize": 10},
       "encoding": {"x": {"field": "i", "type": "quantitative", "title": null}, "y": {"datum": 76.06, "type": "quantitative"}, "color": {"field": "k", "type": "nominal", "scale": {"domain": ["p", "c", "g"], "range": ["#e57cb9", "#58c9c9", "#b48f9c"]}, "legend": null}}},
      {"data": {"values": [{}]}, "layer": [
       {"mark": {"type": "rect", "filled": false, "color": "#cfa4d6", "strokeWidth": 1.2}, "encoding": {"x": {"datum": -1, "type": "quantitative"}, "x2": {"datum": 70}, "y": {"datum": 70.1, "type": "quantitative"}, "y2": {"datum": 271}}},
       {"encoding": {"y": {"datum": 279.51, "type": "quantitative"}}, "layer": [
        {"mark": {"type": "text", "text": "南亞(1303)", "fontSize": 11}, "encoding": {"x": {"datum": -1.15, "type": "quantitative"}}},
        {"mark": {"type": "text", "text": "日線圖", "fontSize": 11.5}, "encoding": {"x": {"datum": 11.24, "type": "quantitative"}}},
        {"mark": {"type": "text", "text": "■", "fontSize": 8, "color": "#d0d0d0"}, "encoding": {"x": {"datum": 16.67, "type": "quantitative"}}},
        {"mark": {"type": "text", "text": "2026/08/28", "font": "Liberation Sans", "fontSize": 16, "fontWeight": "bold", "color": "#111111"}, "encoding": {"x": {"datum": 18.34, "type": "quantitative"}}},
        {"mark": {"type": "text", "text": "收", "fontSize": 11.5}, "encoding": {"x": {"datum": 31.63, "type": "quantitative"}}},
        {"mark": {"type": "text", "text": "220.50", "font": "Liberation Sans", "fontSize": 14.5, "fontWeight": "bold", "color": "#1a9a2a"}, "encoding": {"x": {"datum": 33.59, "type": "quantitative"}}},
        {"mark": {"type": "text", "text": "s", "font": "Liberation Sans", "fontSize": 15, "fontWeight": "bold", "color": "#111111"}, "encoding": {"x": {"datum": 40.7, "type": "quantitative"}}},
        {"mark": {"type": "text", "text": "元", "fontSize": 11.5}, "encoding": {"x": {"datum": 42.0, "type": "quantitative"}}},
        {"mark": {"type": "text", "text": "量", "fontSize": 11.5}, "encoding": {"x": {"datum": 44.92, "type": "quantitative"}}},
        {"mark": {"type": "text", "text": "190031", "font": "Liberation Sans", "fontSize": 16, "fontWeight": "bold", "color": "#111111"}, "encoding": {"x": {"datum": 47.04, "type": "quantitative"}}},
        {"mark": {"type": "text", "text": "張", "fontSize": 11.5}, "encoding": {"x": {"datum": 55.8, "type": "quantitative"}}},
        {"mark": {"type": "text", "text": "-7.00 (-3.08%)", "font": "Liberation Sans", "fontSize": 16, "fontWeight": "bold", "color": "#111111"}, "encoding": {"x": {"datum": 58.07, "type": "quantitative"}}}
       ]},
       {"encoding": {"y": {"datum": 259.08, "type": "quantitative"}}, "layer": [
        {"mark": {"type": "text", "text": "SMA5 204.70", "font": "Liberation Sans", "fontSize": 12, "fontWeight": "bold", "color": "#9c1c1c"}, "encoding": {"x": {"datum": -0.85, "type": "quantitative"}}},
        {"mark": {"type": "text", "text": "↑", "font": "Liberation Sans, DejaVu Sans", "fontSize": 15, "fontWeight": "bold", "color": "#d41a1a"}, "encoding": {"x": {"datum": 10.33, "type": "quantitative"}}},
        {"mark": {"type": "text", "text": "SMA10 198.95", "font": "Liberation Sans", "fontSize": 12, "fontWeight": "bold", "color": "#3cc2c0"}, "encoding": {"x": {"datum": 13.65, "type": "quantitative"}}},
        {"mark": {"type": "text", "text": "↑", "font": "Liberation Sans, DejaVu Sans", "fontSize": 15, "fontWeight": "bold", "color": "#d41a1a"}, "encoding": {"x": {"datum": 25.89, "type": "quantitative"}}},
        {"mark": {"type": "text", "text": "SMA20 191.45", "font": "Liberation Sans", "fontSize": 12, "fontWeight": "bold", "color": "#c8339a"}, "encoding": {"x": {"datum": 29.36, "type": "quantitative"}}},
        {"mark": {"type": "text", "text": "↑", "font": "Liberation Sans, DejaVu Sans", "fontSize": 15, "fontWeight": "bold", "color": "#d41a1a"}, "encoding": {"x": {"datum": 41.6, "type": "quantitative"}}},
        {"mark": {"type": "text", "text": "SMA60 170.19", "font": "Liberation Sans", "fontSize": 12, "fontWeight": "bold", "color": "#e6884a"}, "encoding": {"x": {"datum": 44.77, "type": "quantitative"}}},
        {"mark": {"type": "text", "text": "↑", "font": "Liberation Sans, DejaVu Sans", "fontSize": 15, "fontWeight": "bold", "color": "#d41a1a"}, "encoding": {"x": {"datum": 57.3, "type": "quantitative"}}}
       ]},
       {"mark": {"type": "text", "text": "1303南亞", "fontSize": 18, "color": "#1f2a78"}, "encoding": {"x": {"datum": 2.7, "type": "quantitative"}, "y": {"datum": 225.88, "type": "quantitative"}}},
       {"mark": {"type": "rule", "color": "#1f2a78", "strokeWidth": 1.2}, "encoding": {"x": {"datum": 2.7, "type": "quantitative"}, "x2": {"datum": 14.56}, "y": {"datum": 217.97, "type": "quantitative"}}}
      ]}
    ]},
    {"layer": [
      {"data": {"values": [{"g": 100}, {"g": 200}]}, "mark": {"type": "rule", "color": "#e6e6e6", "strokeWidth": 1}, "encoding": {"x": {"datum": -1, "type": "quantitative"}, "x2": {"datum": 70}, "y": {"field": "g", "type": "quantitative", "title": null}}},
      {"data": {"name": "R"}, "layer": [
       {"mark": {"type": "bar", "size": 5.4, "strokeWidth": 0.8},
        "encoding": {
         "x": {"field": "i", "type": "quantitative", "title": null, "scale": {"domain": [-83.93, 79.22], "nice": false, "zero": false},
          "axis": {"orient": "bottom", "values": [0, 25, 47], "labelExpr": "datum.value == 0 ? '2026/05/26' : datum.value == 25 ? '07' : '08'", "labelAlign": {"condition": {"test": "datum.value == 0", "value": "left"}, "value": "center"}, "labelOffset": {"condition": {"test": "datum.value == 0", "value": -5}, "value": 0}, "labelFlush": false, "grid": true, "gridColor": "#e6e6e6", "gridOpacity": {"condition": {"test": "datum.value == 0", "value": 0}, "value": 1}, "domain": false, "tickSize": 9, "tickColor": "#999999", "labelPadding": 9, "labelFont": "Liberation Sans", "labelFontSize": 12, "labelColor": "#7a7a7a"}},
         "y": {"field": "v", "type": "quantitative", "title": null, "scale": {"domain": [0, 916.7], "nice": false}, "axis": {"orient": "right", "offset": -61, "values": [100, 200], "labelExpr": "datum.value + 'K'", "grid": false, "domain": false, "ticks": false, "labelPadding": 3, "labelFont": "Liberation Sans", "labelFontSize": 12.5, "labelFontWeight": "bold", "labelColor": "#222222"}},
         "fill": {"field": "d", "type": "nominal", "scale": {"domain": ["u", "d", "f"], "range": ["#ea625d", "#55b455", "#404040"]}, "legend": null},
         "stroke": {"field": "d", "type": "nominal", "scale": {"domain": ["u", "d", "f"], "range": ["#c93a35", "#2f8a2f", "#111111"]}, "legend": null}}},
       {"mark": {"type": "line", "strokeWidth": 1.1, "color": "#e0554f"}, "encoding": {"x": {"field": "i", "type": "quantitative", "title": null}, "y": {"field": "vm5", "type": "quantitative", "title": null}}},
       {"mark": {"type": "line", "strokeWidth": 1.1, "color": "#3c78b4"}, "encoding": {"x": {"field": "i", "type": "quantitative", "title": null}, "y": {"field": "vm10", "type": "quantitative", "title": null}}}
      ]},
      {"data": {"values": [{"i": 66, "v": 183.6}]}, "mark": {"type": "point", "shape": "circle", "size": 650, "filled": false, "color": "#444444", "strokeWidth": 1, "strokeDash": [2, 2], "opacity": 1}, "encoding": {"x": {"field": "i", "type": "quantitative", "title": null}, "y": {"field": "v", "type": "quantitative", "title": null}}},
      {"data": {"values": [{}]}, "layer": [
       {"mark": {"type": "rect", "filled": false, "color": "#b5b5b5", "strokeWidth": 1}, "encoding": {"x": {"datum": -1, "type": "quantitative"}, "x2": {"datum": 70}, "y": {"datum": 0, "type": "quantitative"}, "y2": {"datum": 303}}},
       {"encoding": {"y": {"datum": 267.05, "type": "quantitative"}}, "layer": [
        {"mark": {"type": "text", "text": "成交量", "fontSize": 9.5, "color": "#666666"}, "encoding": {"x": {"datum": -1.0, "type": "quantitative"}}},
        {"mark": {"type": "text", "text": "成交量", "fontSize": 9.5, "color": "#666666"}, "encoding": {"x": {"datum": 5.8, "type": "quantitative"}}},
        {"mark": {"type": "text", "text": "190031", "font": "Liberation Sans", "fontSize": 12.5, "fontWeight": "bold", "color": "#111111"}, "encoding": {"x": {"datum": 10.63, "type": "quantitative"}}},
        {"mark": {"type": "text", "text": "↑", "font": "Liberation Sans, DejaVu Sans", "fontSize": 13, "fontWeight": "bold", "color": "#d41a1a"}, "encoding": {"x": {"datum": 17.28, "type": "quantitative"}}},
        {"mark": {"type": "text", "text": "張", "fontSize": 10, "color": "#d49090"}, "encoding": {"x": {"datum": 18.34, "type": "quantitative"}}},
        {"mark": {"type": "text", "text": "MA5 115808", "font": "Liberation Sans", "fontSize": 12, "fontWeight": "bold", "color": "#e03a3a"}, "encoding": {"x": {"datum": 22.11, "type": "quantitative"}}},
        {"mark": {"type": "text", "text": "↑", "font": "Liberation Sans, DejaVu Sans", "fontSize": 13, "fontWeight": "bold", "color": "#d41a1a"}, "encoding": {"x": {"datum": 33.14, "type": "quantitative"}}},
        {"mark": {"type": "text", "text": "張", "fontSize": 10, "color": "#d49090"}, "encoding": {"x": {"datum": 34.3, "type": "quantitative"}}},
        {"mark": {"type": "text", "text": "MA10 98817", "font": "Liberation Sans", "fontSize": 12, "fontWeight": "bold", "color": "#1f70ae"}, "encoding": {"x": {"datum": 37.97, "type": "quantitative"}}},
        {"mark": {"type": "text", "text": "↑", "font": "Liberation Sans, DejaVu Sans", "fontSize": 13, "fontWeight": "bold", "color": "#d41a1a"}, "encoding": {"x": {"datum": 48.7, "type": "quantitative"}}},
        {"mark": {"type": "text", "text": "張", "fontSize": 10, "color": "#94bedb"}, "encoding": {"x": {"datum": 49.86, "type": "quantitative"}}}
       ]}
      ]}
    ]}
   ]}
 ]},
{"width": 1080, "height": 33, "data": {"values": []}, "mark": "point"},
{"width": 1078, "height": 25, "view": {"fill": {"gradient": "linear", "x1": 0, "y1": 0, "x2": 1, "y2": 0, "stops": [{"offset": 0, "color": "rgba(255,255,255,0)"}, {"offset": 0.9721, "color": "rgba(255,255,255,0)"}, {"offset": 0.9722, "color": "#dbe8f3"}, {"offset": 1, "color": "#dbe8f3"}]}}, "data": {"values": []}, "mark": "point",
 "title": {"text": "6", "anchor": "end", "orient": "top", "frame": "group", "dx": -11, "offset": -19, "font": "Liberation Sans", "fontSize": 15, "fontWeight": "normal", "color": "#4b7ba3"}},
{"width": 1080, "height": 17, "data": {"values": []}, "mark": "point",
 "title": {"text": "本資料僅供參考，不保證其完整性及精確性，並不提供為買賣股票之投資依據，投資人應審慎衡量本身之投資風險，並就投資結果自行負責。", "anchor": "start", "orient": "top", "frame": "group", "dx": 185, "offset": -8, "font": "Noto Sans CJK TC", "fontSize": 9.5, "fontWeight": "normal", "color": "#3a3a3a"}},
{"width": 1020, "height": 1, "view": {"fill": {"gradient": "linear", "x1": 0, "y1": 0, "x2": 1, "y2": 0, "stops": [{"offset": 0, "color": "rgba(255,255,255,0)"}, {"offset": 0.0146, "color": "rgba(255,255,255,0)"}, {"offset": 0.0147, "color": "#33414f"}, {"offset": 1, "color": "#33414f"}]}}, "data": {"values": []}, "mark": "point",
 "title": {"text": "資料來源：XQ", "anchor": "start", "orient": "top", "frame": "group", "dx": 40, "offset": 9, "font": "Noto Sans CJK TC", "fontSize": 13, "fontWeight": "normal", "color": "#8a8a8a"}},
{"width": 1050, "height": 28, "view": {"fill": {"gradient": "linear", "x1": 0, "y1": 0, "x2": 1, "y2": 0, "stops": [{"offset": 0, "color": "rgba(255,255,255,0)"}, {"offset": 0.8313, "color": "rgba(255,255,255,0)"}, {"offset": 0.8314, "color": "#1b4f9c"}, {"offset": 0.84, "color": "#1b4f9c"}, {"offset": 0.8401, "color": "#f29422"}, {"offset": 0.847, "color": "#f29422"}, {"offset": 0.8471, "color": "#6fb3e0"}, {"offset": 0.8542, "color": "#6fb3e0"}, {"offset": 0.8543, "color": "rgba(255,255,255,0)"}, {"offset": 1, "color": "rgba(255,255,255,0)"}]}}, "data": {"values": []}, "mark": "point",
 "title": {"text": "凱基投顧", "subtitle": "KGI INVESTMENT ADVISORY", "anchor": "start", "orient": "top", "frame": "group", "dx": 903, "offset": -27, "font": "Noto Sans CJK TC", "fontSize": 16, "fontWeight": "bold", "color": "#1d3566", "subtitleFont": "Liberation Sans", "subtitleFontSize": 5.5, "subtitleColor": "#1d3566", "subtitlePadding": 1}},
{"width": 150, "height": 7, "view": {"fill": "#45ae48"}, "data": {"values": []}, "mark": "point",
 "title": {"text": "|  凱基金控成員", "anchor": "start", "orient": "top", "frame": "group", "dx": 984, "offset": 6, "font": "Noto Sans CJK TC", "fontSize": 8, "fontWeight": "normal", "color": "#555555"}}
]
}
